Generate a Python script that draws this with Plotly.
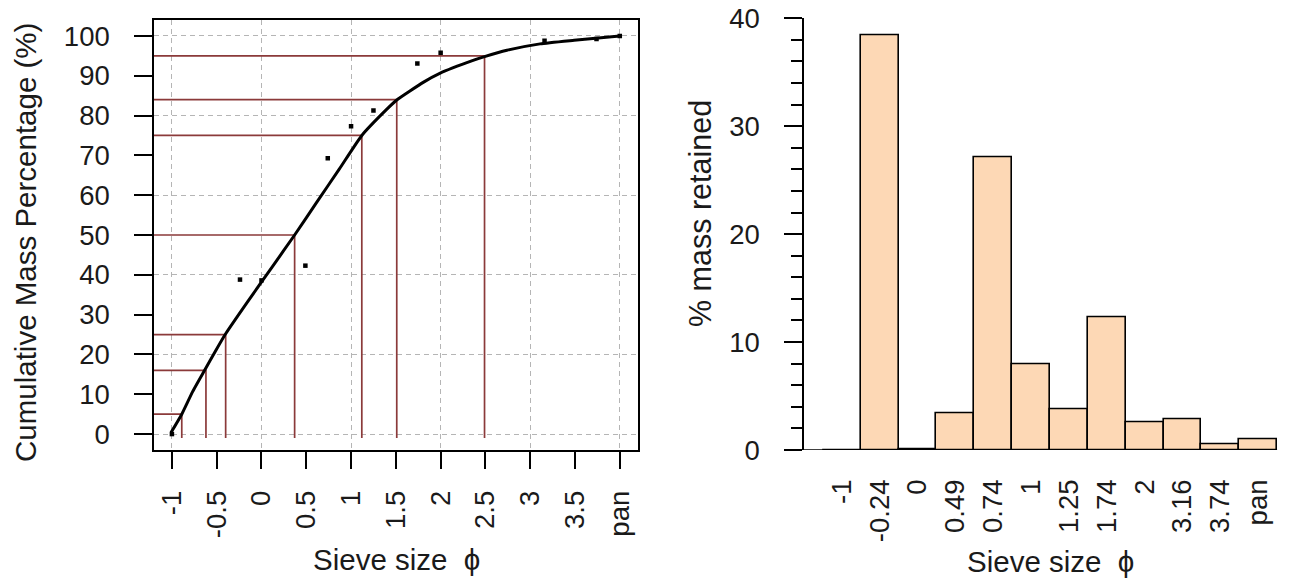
import plotly.graph_objects as go

# ---------------- data ----------------
sieve_labels = ["-1", "-0.24", "0", "0.49", "0.74", "1", "1.25", "1.74", "2", "3.16", "3.74", "pan"]
sieve_phi = [-1, -0.24, 0, 0.49, 0.74, 1, 1.25, 1.74, 2, 3.16, 3.74, 4]
mass_retained = [0, 38.4, 0.1, 3.4, 27.1, 7.9, 3.8, 12.3, 2.6, 2.8, 0.5, 1.0]
cumulative_pct = [0, 38.8, 38.6, 42.3, 69.3, 77.3, 81.3, 93.1, 95.8, 98.8, 99.2, 100]

# smoothed cumulative curve
curve_phi = [-1.01, -0.89, -0.77, -0.63, -0.51, -0.40, -0.15, 0.12, 0.37, 0.61,
             0.87, 1.12, 1.40, 1.51, 1.81, 1.99, 2.37, 2.49, 2.74, 3.11, 3.49, 4.0]
curve_pct = [0.4, 5.0, 10.6, 16.2, 21.0, 25.2, 33.4, 42.0, 50.0, 58.0,
             66.6, 75.0, 81.6, 83.9, 88.4, 90.6, 93.9, 94.8, 96.4, 98.0, 98.9, 100]

# percentile read-offs
pct_levels = [5, 16, 25, 50, 75, 84, 95]
pct_phi = [-0.89, -0.62, -0.40, 0.37, 1.12, 1.51, 2.49]

# axis ticks
left_x_ticks = [-1, -0.5, 0, 0.5, 1, 1.5, 2, 2.5, 3, 3.5, 4]
left_x_text = ["-1", "-0.5", "0", "0.5", "1", "1.5", "2", "2.5", "3", "3.5", "pan"]
left_y_ticks = [0, 10, 20, 30, 40, 50, 60, 70, 80, 90, 100]
grid_x = [-1, 0, 1, 2, 3, 4]
grid_y = [0, 20, 40, 60, 80, 100]
right_y_ticks = [0, 10, 20, 30, 40]

# ---------------- layout geometry ----------------
W, H = 1296, 582
def px(x):
    return x / W
def py(y):
    return 1 - y / H

LX_RANGE = [-1.2, 4.2]
LY_RANGE = [-4, 104]
RX_RANGE = [-1, 12]
RY_RANGE = [0, 40]

FONT = "Liberation Sans, Arial, sans-serif"
TXT = "#1a1a1a"
RED = "#8B3A3A"
TICK_SIZE = 27.5
TITLE_SIZE = 29.5

fig = go.Figure()

# red percentile guide lines
seg_x, seg_y = [], []
for p, f in zip(pct_levels, pct_phi):
    seg_x += [LX_RANGE[0], f, f, None]
    seg_y += [p, p, -1, None]
fig.add_trace(go.Scatter(x=seg_x, y=seg_y, mode="lines",
                         line=dict(color=RED, width=1.7),
                         xaxis="x", yaxis="y", hoverinfo="skip", showlegend=False))

# cumulative curve
fig.add_trace(go.Scatter(x=curve_phi, y=curve_pct, mode="lines",
                         line=dict(color="black", width=3, shape="spline", smoothing=0.5),
                         xaxis="x", yaxis="y", showlegend=False))

# measured points
fig.add_trace(go.Scatter(x=sieve_phi, y=cumulative_pct, mode="markers",
                         marker=dict(color="black", size=4.5, symbol="square"),
                         xaxis="x", yaxis="y", showlegend=False))

# empty trace for grid overlay axes
fig.add_trace(go.Scatter(x=[None], y=[None], xaxis="x3", yaxis="y3",
                         hoverinfo="skip", showlegend=False))

# histogram bars
bar_pos = list(range(len(sieve_labels)))
fig.add_trace(go.Bar(x=bar_pos, y=mass_retained, width=1,
                     marker=dict(color="#FDD8B5", line=dict(color="black", width=1.6)),
                     xaxis="x2", yaxis="y2", showlegend=False))

# baseline for bar chart
fig.add_shape(type="line", xref="x2", yref="y2",
              x0=RX_RANGE[0], x1=len(sieve_labels) - 0.5, y0=0, y1=0,
              line=dict(color="black", width=1.6))

axis_common = dict(showgrid=False, zeroline=False, automargin=False,
                   tickcolor="black", tickwidth=1.5,
                   tickfont=dict(family=FONT, size=TICK_SIZE, color=TXT))

fig.update_layout(
    width=W, height=H,
    margin=dict(l=0, r=0, t=0, b=0, pad=0),
    paper_bgcolor="white", plot_bgcolor="white",
    showlegend=False,
    font=dict(family=FONT, color=TXT),
    bargap=0,
    xaxis=dict(domain=[px(154), px(637.7)], range=LX_RANGE, anchor="y",
               tickmode="array", tickvals=left_x_ticks, ticktext=left_x_text,
               tickangle=-90, ticks="outside", ticklen=17,
               showline=True, mirror=True, linecolor="black", linewidth=1.5,
               ticklabelstandoff=11, **axis_common),
    yaxis=dict(domain=[py(450), py(20)], range=LY_RANGE, anchor="x",
               tickmode="array", tickvals=left_y_ticks,
               ticks="outside", ticklen=18,
               showline=True, mirror=True, linecolor="black", linewidth=1.5,
               ticklabelstandoff=19, **axis_common),
    xaxis3=dict(overlaying="x", anchor="y3", range=LX_RANGE,
                tickmode="array", tickvals=grid_x, showticklabels=False, ticks="",
                showgrid=True, gridcolor="#B5B5B5", gridwidth=1, griddash="5px,4px",
                zeroline=False, showline=False),
    yaxis3=dict(overlaying="y", anchor="x3", range=LY_RANGE,
                tickmode="array", tickvals=grid_y, showticklabels=False, ticks="",
                showgrid=True, gridcolor="#B5B5B5", gridwidth=1, griddash="5px,4px",
                zeroline=False, showline=False),
    xaxis2=dict(domain=[px(804), 1.0], range=RX_RANGE, anchor="y2",
                tickmode="array", tickvals=bar_pos, ticktext=sieve_labels,
                tickangle=-90, ticks="", showline=False,
                ticklabelstandoff=23, **axis_common),
    yaxis2=dict(domain=[py(450), py(18.3)], range=RY_RANGE, anchor="x2",
                tickmode="array", tickvals=right_y_ticks,
                ticks="outside", ticklen=18,
                minor=dict(dtick=2, ticks="outside", ticklen=11,
                           tickcolor="black", tickwidth=1.5),
                showline=True, linecolor="black", linewidth=1.5,
                ticklabelstandoff=19, **axis_common),
)

title_font = dict(family=FONT, size=TITLE_SIZE, color=TXT)
fig.add_annotation(text="Cumulative Mass Percentage (%)", textangle=-90,
                   xref="paper", yref="paper", x=px(25), y=py(243),
                   xanchor="center", yanchor="middle", showarrow=False, font=title_font)
fig.add_annotation(text="Sieve size  \u03d5",
                   xref="paper", yref="paper", x=px(397), y=py(559),
                   xanchor="center", yanchor="middle", showarrow=False, font=title_font)
fig.add_annotation(text="% mass retained", textangle=-90,
                   xref="paper", yref="paper", x=px(700), y=py(214),
                   xanchor="center", yanchor="middle", showarrow=False,
                   font=dict(family=FONT, size=30.5, color=TXT))
fig.add_annotation(text="Sieve size  \u03d5",
                   xref="paper", yref="paper", x=px(1050), y=py(561),
                   xanchor="center", yanchor="middle", showarrow=False, font=title_font)

fig.write_html("out.html", config={"displayModeBar": False},
               post_script="document.body.style.margin='0';document.body.style.overflow='hidden';")
